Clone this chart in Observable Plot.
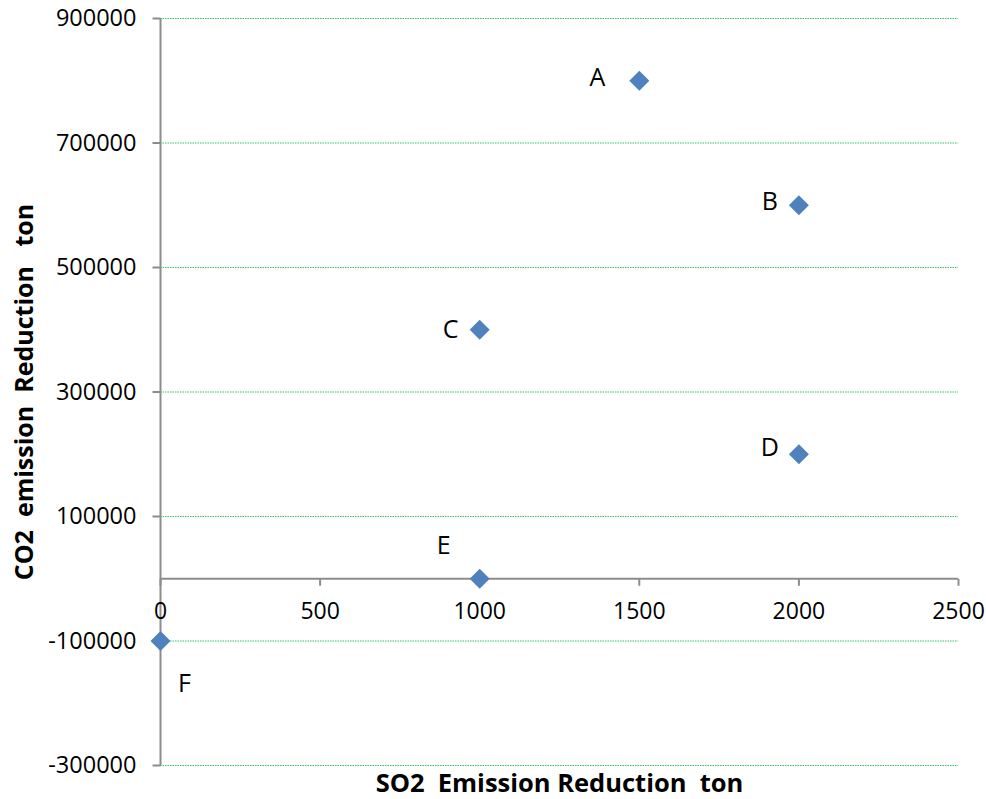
<!DOCTYPE html>
<html>
<head>
<meta charset="utf-8">
<script src="https://cdn.jsdelivr.net/npm/d3@7"></script>
<script src="https://cdn.jsdelivr.net/npm/@observablehq/plot@0.6"></script>
<style>
  html, body { margin: 0; padding: 0; background: #fff; }
  #chart svg { display: block; }
</style>
</head>
<body>
<div id="chart"></div>
<script>
const labels = ["A", "B", "C", "D", "E", "F"];
const so2 = [1500, 2000, 1000, 2000, 1000, 0];
const co2 = [800000, 600000, 400000, 200000, 0, -100000];
const xTicks = [0, 500, 1000, 1500, 2000, 2500];
const yTicks = [-300000, -100000, 100000, 300000, 500000, 700000, 900000];
const xTitle = "SO2  Emission Reduction  ton";
const yTitle = "CO2  emission  Reduction   ton";

const data = labels.map((l, i) => ({label: l, so2: so2[i], co2: co2[i]}));

// label offsets (style)
const offsets = {
  A: [-42, -3], B: [-29, -3], C: [-29, 0], D: [-29, -6], E: [-36, -33], F: [24, 43]
};

const axisColor = "#8c8c8c";
const tickDown = {draw(ctx) { ctx.moveTo(0, 0); ctx.lineTo(0, 7); }};
const tickLeft = {draw(ctx) { ctx.moveTo(0, 0); ctx.lineTo(-8, 0); }};

const chart = Plot.plot({
  width: 986,
  height: 799,
  marginLeft: 160,
  marginRight: 28,
  marginTop: 18,
  marginBottom: 34,
  style: {fontFamily: "'Open Sans', sans-serif", fontSize: "22px", color: "#000", background: "#fff"},
  x: {domain: [0, 2500], axis: null},
  y: {domain: [-300000, 900000], axis: null},
  marks: [
    Plot.ruleY(yTicks, {y: d => d, stroke: "#2fc964", strokeWidth: 1, strokeDasharray: "1.5,1"}),
    Plot.ruleX([0], {stroke: axisColor, strokeWidth: 2}),
    Plot.ruleY([0], {stroke: axisColor, strokeWidth: 2}),
    Plot.dot(yTicks, {x: 0, y: d => d, symbol: tickLeft, stroke: axisColor, strokeWidth: 2}),
    Plot.dot(xTicks, {x: d => d, y: 0, symbol: tickDown, stroke: axisColor, strokeWidth: 2}),
    Plot.text(yTicks, {x: 0, y: d => d, text: d => String(d), textAnchor: "end", dx: -24, fontSize: 23.5, fill: "#000"}),
    Plot.text(xTicks, {x: d => d, y: 0, text: d => String(d), dy: 33, fontSize: 23, fill: "#000"}),
    Plot.dot(data, {x: "so2", y: "co2", symbol: "diamond2", r: 9, fill: "#4f81bd", stroke: "none"}),
    ...labels.map(l => Plot.text(data.filter(d => d.label === l), {
      x: "so2", y: "co2", text: "label", dx: offsets[l][0], dy: offsets[l][1], fontSize: 25, fill: "#000"
    })),
    Plot.text([xTitle], {text: d => d, frameAnchor: "bottom", textAnchor: "middle", lineAnchor: "middle", dy: 18, fontSize: 25.5, fontWeight: "bold", fill: "#000"}),
    Plot.text([yTitle], {text: d => d, frameAnchor: "left", textAnchor: "middle", lineAnchor: "middle", dx: -136, dy: 0, rotate: -90, fontSize: 25, fontWeight: "bold", fill: "#000"})
  ]
});
document.getElementById("chart").appendChild(chart);
</script>
</body>
</html>
